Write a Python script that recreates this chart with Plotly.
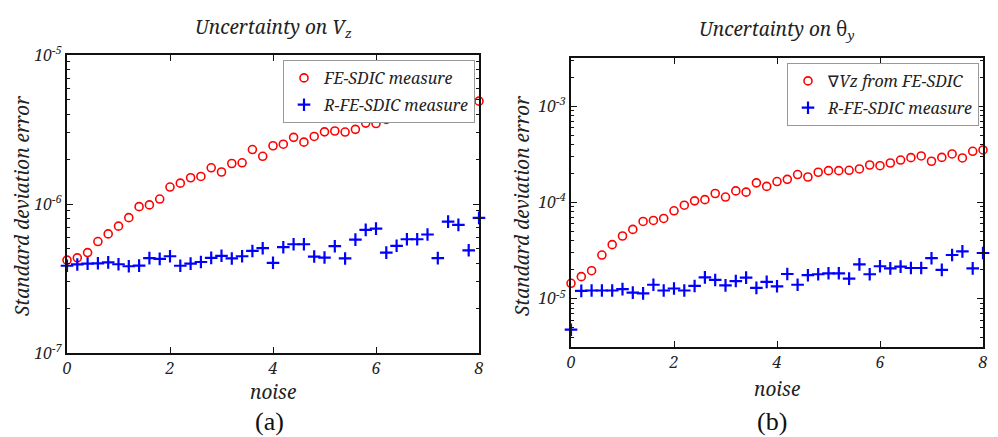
import plotly.graph_objects as go

noise = [round(i * 0.2, 1) for i in range(41)]

vz_fe = [4.2e-7, 4.35e-7, 4.72e-7, 5.6e-7, 6.3e-7, 7.1e-7, 8.1e-7, 9.6e-7, 9.86e-7, 1.08e-6,
         1.30e-6, 1.38e-6, 1.50e-6, 1.53e-6, 1.75e-6, 1.64e-6, 1.87e-6, 1.89e-6, 2.32e-6, 2.09e-6,
         2.46e-6, 2.52e-6, 2.80e-6, 2.60e-6, 2.84e-6, 3.05e-6, 3.09e-6, 3.04e-6, 3.17e-6, 3.49e-6,
         3.47e-6, 3.70e-6, 3.85e-6, 3.96e-6, 4.12e-6, 3.97e-6, 4.5e-6, 4.6e-6, 4.15e-6, 4.6e-6,
         4.9e-6]
vz_rfe = [3.85e-7, 3.93e-7, 3.98e-7, 4.0e-7, 4.06e-7, 3.94e-7, 3.82e-7, 3.86e-7, 4.33e-7, 4.28e-7,
          4.46e-7, 3.85e-7, 3.98e-7, 4.08e-7, 4.35e-7, 4.49e-7, 4.31e-7, 4.46e-7, 4.84e-7, 5.05e-7,
          4.03e-7, 5.13e-7, 5.37e-7, 5.37e-7, 4.44e-7, 4.37e-7, 5.21e-7, 4.31e-7, 5.77e-7, 6.70e-7,
          6.84e-7, 4.72e-7, 5.24e-7, 5.8e-7, 5.8e-7, 6.24e-7, 4.33e-7, 7.62e-7, 7.24e-7, 4.89e-7,
          8.07e-7]

th_fe = [1.45e-5, 1.70e-5, 1.96e-5, 2.85e-5, 3.65e-5, 4.49e-5, 5.26e-5, 6.36e-5, 6.51e-5, 6.83e-5,
         8.2e-5, 9.38e-5, 1.04e-4, 1.07e-4, 1.24e-4, 1.14e-4, 1.32e-4, 1.28e-4, 1.60e-4, 1.47e-4,
         1.65e-4, 1.74e-4, 1.95e-4, 1.84e-4, 2.06e-4, 2.14e-4, 2.14e-4, 2.16e-4, 2.23e-4, 2.45e-4,
         2.41e-4, 2.57e-4, 2.76e-4, 2.92e-4, 3.04e-4, 2.68e-4, 2.94e-4, 3.19e-4, 2.90e-4, 3.40e-4,
         3.51e-4]
th_rfe = [4.78e-6, 1.21e-5, 1.22e-5, 1.22e-5, 1.22e-5, 1.26e-5, 1.16e-5, 1.14e-5, 1.40e-5, 1.22e-5,
          1.28e-5, 1.22e-5, 1.36e-5, 1.67e-5, 1.57e-5, 1.38e-5, 1.53e-5, 1.66e-5, 1.30e-5, 1.50e-5,
          1.35e-5, 1.81e-5, 1.40e-5, 1.76e-5, 1.80e-5, 1.84e-5, 1.84e-5, 1.62e-5, 2.28e-5, 1.80e-5,
          2.18e-5, 2.07e-5, 2.16e-5, 2.09e-5, 2.09e-5, 2.64e-5, 2.0e-5, 2.85e-5, 3.11e-5, 2.07e-5,
          2.99e-5]

x_ticks = [0, 2, 4, 6, 8]
left_yticks = [1e-7, 1e-6, 1e-5]
left_ytext = ["<i>10</i><sup><i>-7</i></sup>", "<i>10</i><sup><i>-6</i></sup>", "<i>10</i><sup><i>-5</i></sup>"]
right_yticks = [1e-5, 1e-4, 1e-3]
right_ytext = ["<i>10</i><sup><i>-5</i></sup>", "<i>10</i><sup><i>-4</i></sup>", "<i>10</i><sup><i>-3</i></sup>"]

ITAL = "Noto Serif"          # has a real italic face
ROMAN = "Liberation Serif"
RED = "#ff0000"
BLUE = "#0000ff"
TXT = "#222222"

fig = go.Figure()

circ = dict(symbol="circle-open", size=8, color=RED, line=dict(color=RED, width=1.6))
plus = dict(symbol="cross-thin-open", size=9, color=BLUE, line=dict(color=BLUE, width=2.2))

fig.add_trace(go.Scatter(x=noise, y=vz_fe, mode="markers", marker=circ, name="<i>FE-SDIC measure</i>",
                         xaxis="x", yaxis="y", legend="legend", legendgroup="a1", cliponaxis=False))
fig.add_trace(go.Scatter(x=noise, y=vz_rfe, mode="markers", marker=plus, name="<i>R-FE-SDIC measure</i>",
                         xaxis="x", yaxis="y", legend="legend", legendgroup="a2", cliponaxis=False))
fig.add_trace(go.Scatter(x=noise, y=th_fe, mode="markers", marker=circ, name="∇<i>Vz from FE-SDIC</i>",
                         xaxis="x2", yaxis="y2", legend="legend2", legendgroup="b1", cliponaxis=False))
fig.add_trace(go.Scatter(x=noise, y=th_rfe, mode="markers", marker=plus, name="<i>R-FE-SDIC measure</i>",
                         xaxis="x2", yaxis="y2", legend="legend2", legendgroup="b2", cliponaxis=False))

W, H = 998, 437
OFF = 8  # page body margin offset
def px_x(v):
    return (v - OFF) / W
def px_y(v):
    return 1 - (v - OFF) / H

axis_common = dict(showline=True, linecolor="#111111", linewidth=2, mirror="ticks",
                   ticks="inside", ticklen=6, tickwidth=1.2, tickcolor="#111111",
                   showgrid=False, zeroline=False, automargin=False,
                   tickfont=dict(family=ITAL, size=16, color=TXT))

xcommon = dict(axis_common, range=[0, 8], tickvals=x_ticks,
               ticktext=[f"<i>{v}</i>" for v in x_ticks])

minor = dict(ticks="inside", ticklen=3, tickcolor="#111111", tickwidth=1, showgrid=False, dtick="D1")

legend_common = dict(xanchor="right", yanchor="top", bgcolor="white", bordercolor="#999999", borderwidth=1,
                     tracegroupgap=3, traceorder="grouped",
                     font=dict(family=ITAL, size=16, color=TXT))

fig.update_layout(
    width=W, height=H, autosize=False,
    margin=dict(l=0, r=0, t=0, b=0, autoexpand=False),
    paper_bgcolor="white", plot_bgcolor="white",
    showlegend=True,
    xaxis=dict(xcommon, domain=[px_x(67), px_x(479)], anchor="y"),
    yaxis=dict(axis_common, type="log", range=[-7, -5], domain=[px_y(353), px_y(55)], anchor="x",
               tickvals=left_yticks, ticktext=left_ytext, minor=minor),
    xaxis2=dict(xcommon, domain=[px_x(571), px_x(983)], anchor="y2"),
    yaxis2=dict(axis_common, type="log", range=[-5.5, -2.5], domain=[px_y(347), px_y(58)], anchor="x2",
                tickvals=right_yticks, ticktext=right_ytext, minor=minor),
    legend=dict(legend_common, x=px_x(475), y=px_y(60)),
    legend2=dict(legend_common, x=px_x(979), y=px_y(63)),
)

ann = dict(xref="paper", yref="paper", showarrow=False, xanchor="center", yanchor="middle",
           font=dict(family=ITAL, size=19, color=TXT))
annotations = [
    dict(ann, text="<i>Uncertainty on V</i><sub><i>z</i></sub>", x=px_x(273), y=px_y(28)),
    dict(ann, text="<i>Uncertainty on </i>θ<sub><i>y</i></sub>", x=px_x(777), y=px_y(30)),
    dict(ann, text="<i>Standard deviation error</i>", x=px_x(22), y=px_y(206), textangle=-90),
    dict(ann, text="<i>Standard deviation error</i>", x=px_x(522), y=px_y(206), textangle=-90),
    dict(ann, text="<i>noise</i>", x=px_x(273), y=px_y(392)),
    dict(ann, text="<i>noise</i>", x=px_x(777), y=px_y(389)),
    dict(ann, text="(a)", x=px_x(269), y=px_y(421), font=dict(family=ROMAN, size=26, color="#111111")),
    dict(ann, text="(b)", x=px_x(772), y=px_y(421), font=dict(family=ROMAN, size=26, color="#111111")),
]
fig.update_layout(annotations=annotations)

fig.write_html("out.html")
